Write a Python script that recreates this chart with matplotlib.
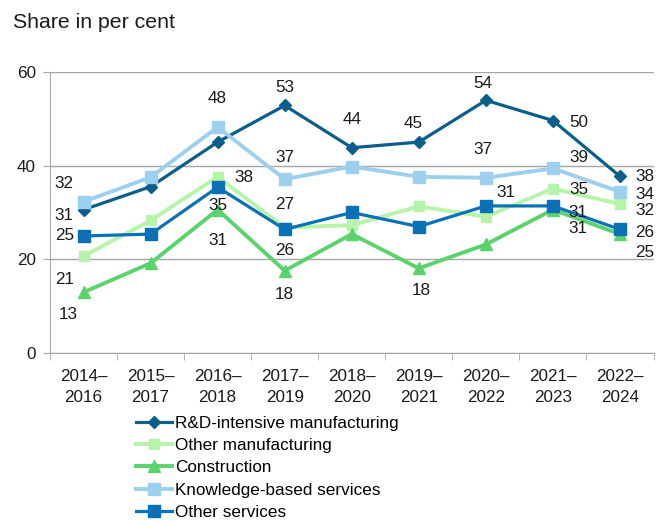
import matplotlib
matplotlib.use("Agg")
import matplotlib.pyplot as plt
import numpy as np

plt.rcParams['font.family'] = ['Liberation Sans', 'DejaVu Sans']

# three-year periods
periods = ['2014–\n2016', '2015–\n2017', '2016–\n2018', '2017–\n2019', '2018–\n2020',
           '2019–\n2021', '2020–\n2022', '2021–\n2023', '2022–\n2024']

rd_manufacturing = [30.6, 35.5, 45.0, 52.8, 43.8, 45.0, 53.9, 49.6, 37.7]
other_manufacturing = [20.7, 28.3, 37.6, 26.8, 27.3, 31.3, 29.1, 35.1, 31.8]
construction = [13.0, 19.2, 30.6, 17.6, 25.4, 18.1, 23.2, 30.6, 25.4]
knowledge_services = [32.3, 37.5, 48.2, 37.1, 39.8, 37.6, 37.4, 39.4, 34.4]
other_services = [25.0, 25.4, 35.4, 26.4, 30.0, 27.0, 31.4, 31.4, 26.4]

series = [
    ('R&D-intensive manufacturing', rd_manufacturing, '#0b5e8b', 'D', 6, 2.3),
    ('Other manufacturing', other_manufacturing, '#b5f4a9', 's', 7.5, 2.8),
    ('Construction', construction, '#5bd36d', '^', 8, 2.8),
    ('Knowledge-based services', knowledge_services, '#9dcfee', 's', 8, 2.8),
    ('Other services', other_services, '#0a71b7', 's', 8, 2.3),
]

# which points get a value label, and where (offset in pixels: right, down)
label_spots = {
    'R&D-intensive manufacturing': {0: (-20, 6), 3: (0, -18), 4: (0, -28), 5: (-6, -19),
                                    6: (-3, -17), 7: (26, 2), 8: (25, 0)},
    'Other manufacturing': {0: (-19, 23), 2: (26, 1), 3: (0, -23), 7: (26, 1), 8: (25, 6)},
    'Construction': {0: (-15, 22), 2: (0, 31), 3: (0, 24), 5: (3, 22), 7: (25, 19), 8: (25, 18)},
    'Knowledge-based services': {0: (-20, -18), 2: (0, -29), 3: (0, -22), 6: (-3, -28),
                                 7: (26, -11), 8: (25, 3)},
    'Other services': {0: (-19, 0), 2: (0, 18), 3: (0, 21), 6: (20, -13), 7: (25, 7), 8: (25, 3)},
}

fs = 12.3

fig = plt.figure(figsize=(6.59, 5.21), dpi=100)
ax = fig.add_axes([50 / 659, 1 - 353.3 / 521, 603.5 / 659, 281.6 / 521])

x = np.arange(len(periods))
for name, vals, color, marker, ms, lw in series:
    ax.plot(x, vals, color=color, marker=marker, markersize=ms, linewidth=lw,
            label=name, clip_on=False)
    for i, (dx, dy) in label_spots[name].items():
        ax.annotate(f'{vals[i]:.0f}', (x[i], vals[i]), xytext=(dx * 0.72, -dy * 0.72),
                    textcoords='offset points', ha='center', va='center',
                    fontsize=fs, color='#1a1a1a')

ax.set_xlim(-0.5, len(periods) - 0.5)
ax.set_ylim(0, 60)
ax.set_yticks([0, 20, 40, 60])
ax.yaxis.grid(True, color='#a6a6a6', linewidth=1)
ax.set_axisbelow(True)

ax.set_xticks(x)
ax.set_xticklabels(periods, fontsize=fs, color='#1a1a1a', linespacing=1.5)
ax.set_xticks(np.arange(-0.5, len(periods)), minor=True)
ax.tick_params(axis='x', which='major', length=0, pad=11)
ax.tick_params(axis='x', which='minor', length=5, color='#a6a6a6')
ax.tick_params(axis='y', length=5, color='#a6a6a6', labelsize=fs, labelcolor='#1a1a1a', pad=5)

for side in ['top', 'right']:
    ax.spines[side].set_visible(False)
for side in ['left', 'bottom']:
    ax.spines[side].set_color('#a6a6a6')

fig.text(13 / 659, 1 - 22 / 521, 'Share in per cent', fontsize=15.3, va='center', ha='left',
         color='#1a1a1a')

fig.legend(loc='upper left', bbox_to_anchor=(136 / 659, 1 - 416 / 521), frameon=False,
           fontsize=fs, handlelength=2.1, handletextpad=0.2, labelspacing=0.42,
           borderaxespad=0, borderpad=0)

fig.savefig('out.png', dpi=100)
